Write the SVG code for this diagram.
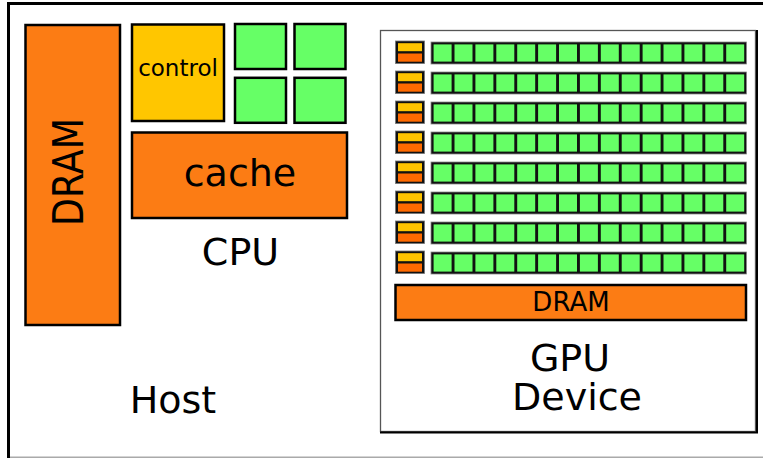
<svg xmlns="http://www.w3.org/2000/svg" xmlns:xlink="http://www.w3.org/1999/xlink" width="763" height="458" viewBox="0 0 763 458">
  <style>
    text { font-family: "DejaVu Sans", "Liberation Sans", sans-serif; fill: #000; }
    .orange { fill: #fc7c14; stroke: #000; stroke-width: 2.5; }
    .yellow { fill: #ffc600; stroke: #000; stroke-width: 2.5; }
    .green { fill: #66ff66; stroke: #000; stroke-width: 2.5; }
    .cell { fill: #66ff66; }
    .big { font-size: 38px; text-anchor: middle; }
  </style>
  <defs>
    <g id="smrow">
      <rect x="395.5" y="41" width="29" height="22.5" fill="#111" stroke="#777" stroke-width="0.8"/>
      <rect x="398" y="43.2" width="24" height="8" fill="#ffc400"/>
      <rect x="398" y="53.5" width="24" height="8.2" fill="#ff6a00"/>
      <rect x="431" y="42" width="315.5" height="22" fill="#111" stroke="#888" stroke-width="0.8"/>
      <g class="cell">
        <rect x="433.6" y="44.4" width="18" height="17.2"/>
        <rect x="454.5" y="44.4" width="18" height="17.2"/>
        <rect x="475.4" y="44.4" width="18" height="17.2"/>
        <rect x="496.3" y="44.4" width="18" height="17.2"/>
        <rect x="517.2" y="44.4" width="18" height="17.2"/>
        <rect x="538.1" y="44.4" width="18" height="17.2"/>
        <rect x="559.0" y="44.4" width="18" height="17.2"/>
        <rect x="579.9" y="44.4" width="18" height="17.2"/>
        <rect x="600.8" y="44.4" width="18" height="17.2"/>
        <rect x="621.7" y="44.4" width="18" height="17.2"/>
        <rect x="642.6" y="44.4" width="18" height="17.2"/>
        <rect x="663.5" y="44.4" width="18" height="17.2"/>
        <rect x="684.4" y="44.4" width="18" height="17.2"/>
        <rect x="705.3" y="44.4" width="18" height="17.2"/>
        <rect x="726.2" y="44.4" width="18" height="17.2"/>
      </g>
    </g>
  </defs>

  <g id="host">
    <rect x="8.5" y="3.5" width="770" height="453.5" fill="#fff" stroke="none"/>
    <line x1="8.5" y1="2" x2="8.5" y2="458" stroke="#000" stroke-width="3"/>
    <line x1="7" y1="3.5" x2="763" y2="3.5" stroke="#000" stroke-width="3"/>
    <line x1="10" y1="457.3" x2="763" y2="457.3" stroke="#aaa" stroke-width="1.4"/>
    <text class="big" x="173" y="412.5">Host</text>
  </g>

  <g id="host-dram">
    <rect class="orange" x="25.5" y="25" width="94.5" height="300"/>
    <text transform="translate(82.7,172) rotate(-90)" x="0" y="0" font-size="42" text-anchor="middle" textLength="108" lengthAdjust="spacingAndGlyphs">DRAM</text>
  </g>

  <g id="cpu">
    <text class="big" x="240.5" y="265">CPU</text>
  </g>
  <g id="cpu-control">
    <rect class="yellow" x="132" y="24.5" width="92" height="96.5"/>
    <text x="178" y="76" font-size="23" text-anchor="middle">control</text>
  </g>
  <g id="cpu-alu-1"><rect class="green" x="235" y="24" width="51" height="45"/></g>
  <g id="cpu-alu-2"><rect class="green" x="294.5" y="24" width="51" height="45"/></g>
  <g id="cpu-alu-3"><rect class="green" x="235" y="77.8" width="51" height="45"/></g>
  <g id="cpu-alu-4"><rect class="green" x="294.5" y="77.8" width="51" height="45"/></g>
  <g id="cpu-cache">
    <rect class="orange" x="132" y="132.5" width="215" height="85.5"/>
    <text x="240" y="186" font-size="38" text-anchor="middle">cache</text>
  </g>

  <g id="gpu">
    <rect x="380.5" y="30.5" width="375" height="401" fill="#fff" stroke="#555" stroke-width="1.3"/>
    <polyline points="757,30 757,432.5 380,432.5" fill="none" stroke="#000" stroke-width="2"/>
    <text class="big"><tspan x="570" y="370.5">GPU</tspan><tspan x="577" y="410">Device</tspan></text>
  </g>
  <g id="gpu-sm-1"><use xlink:href="#smrow" href="#smrow"/></g>
  <g id="gpu-sm-2"><use xlink:href="#smrow" href="#smrow" y="30"/></g>
  <g id="gpu-sm-3"><use xlink:href="#smrow" href="#smrow" y="60"/></g>
  <g id="gpu-sm-4"><use xlink:href="#smrow" href="#smrow" y="90"/></g>
  <g id="gpu-sm-5"><use xlink:href="#smrow" href="#smrow" y="120"/></g>
  <g id="gpu-sm-6"><use xlink:href="#smrow" href="#smrow" y="150"/></g>
  <g id="gpu-sm-7"><use xlink:href="#smrow" href="#smrow" y="180"/></g>
  <g id="gpu-sm-8"><use xlink:href="#smrow" href="#smrow" y="210"/></g>
  <g id="gpu-dram">
    <rect class="orange" x="395.5" y="285" width="350.5" height="35"/>
    <text x="571" y="310.5" font-size="26" text-anchor="middle">DRAM</text>
  </g>

  <g id="connectors"/>
</svg>
